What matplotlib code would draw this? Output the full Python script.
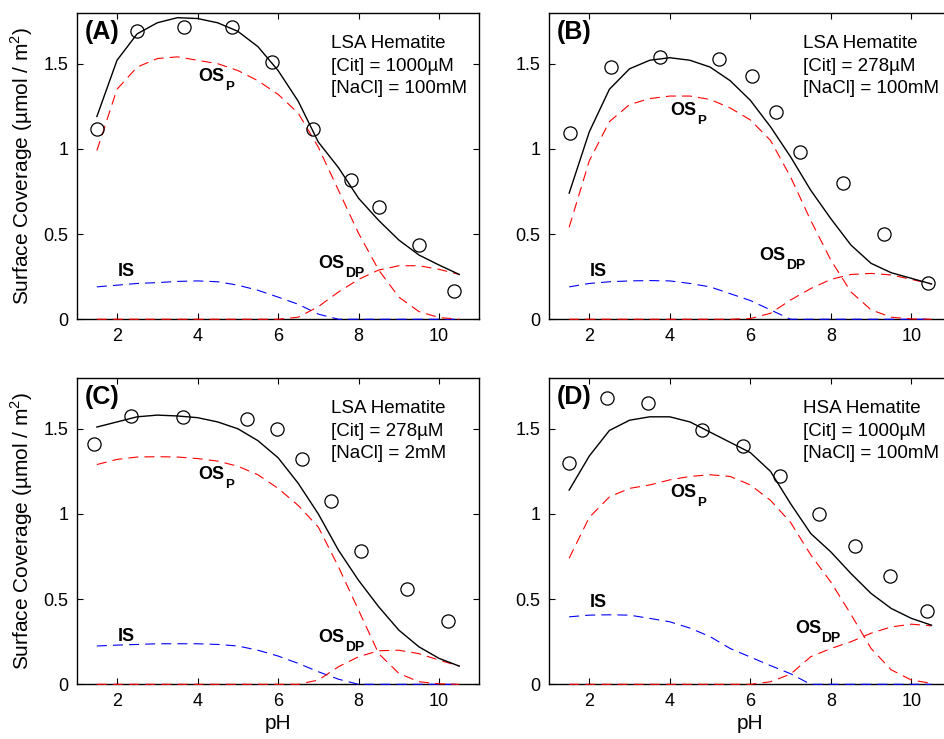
import numpy as np
import matplotlib.pyplot as plt

plt.rcParams['font.family'] = ['Liberation Sans', 'DejaVu Sans']
plt.rcParams['mathtext.fontset'] = 'custom'
plt.rcParams['mathtext.rm'] = 'Liberation Sans'

# pH grid of the model curves
ph_fit = [1.5, 2.0, 2.5, 3.0, 3.5, 4.0, 4.5, 5.0, 5.5, 6.0,
          6.5, 7.0, 7.5, 8.0, 8.5, 9.0, 9.5, 10.0, 10.5]

# (A) LSA, Cit 1000uM, NaCl 100mM
ph_obs_a = [1.50, 2.50, 3.67, 4.85, 5.84, 6.86, 7.81, 8.50, 9.50, 10.37]
obs_a = [1.117, 1.689, 1.716, 1.716, 1.509, 1.117, 0.818, 0.658, 0.433, 0.166]
tot_a = [1.19, 1.52, 1.675, 1.74, 1.77, 1.765, 1.74, 1.69, 1.60, 1.46,
         1.28, 1.04, 0.89, 0.71, 0.58, 0.465, 0.377, 0.318, 0.263]
osp_a = [0.99, 1.35, 1.48, 1.53, 1.54, 1.52, 1.50, 1.46, 1.40, 1.32,
         1.21, 1.01, 0.757, 0.504, 0.289, 0.13, 0.045, 0.01, 0.0]
osdp_a = [0, 0, 0, 0, 0, 0, 0, 0, 0, 0,
          0.012, 0.074, 0.16, 0.234, 0.289, 0.314, 0.314, 0.293, 0.263]
is_a = [0.19, 0.20, 0.21, 0.215, 0.222, 0.225, 0.22, 0.20, 0.17, 0.13,
        0.088, 0.03, 0, 0, 0, 0, 0, 0, 0]

# (B) LSA, Cit 278uM, NaCl 100mM
ph_obs_b = [1.53, 2.55, 3.75, 5.22, 6.03, 6.64, 7.24, 8.30, 9.31, 10.41]
obs_b = [1.096, 1.48, 1.54, 1.53, 1.43, 1.217, 0.98, 0.80, 0.50, 0.215]
tot_b = [0.74, 1.10, 1.35, 1.47, 1.52, 1.535, 1.52, 1.48, 1.40, 1.285,
         1.13, 0.953, 0.757, 0.59, 0.435, 0.328, 0.273, 0.24, 0.207]
osp_b = [0.54, 0.93, 1.16, 1.26, 1.295, 1.31, 1.31, 1.29, 1.24, 1.17,
         1.05, 0.835, 0.58, 0.347, 0.16, 0.055, 0.012, 0.002, 0]
osdp_b = [0, 0, 0, 0, 0, 0, 0, 0, 0, 0.004,
          0.035, 0.113, 0.18, 0.234, 0.263, 0.269, 0.26, 0.234, 0.207]
is_b = [0.19, 0.21, 0.22, 0.225, 0.227, 0.225, 0.21, 0.19, 0.15, 0.11,
        0.055, 0.0, 0, 0, 0, 0, 0, 0, 0]

# (C) LSA, Cit 278uM, NaCl 2mM
ph_obs_c = [1.44, 2.35, 3.65, 5.24, 5.98, 6.60, 7.31, 8.06, 9.21, 10.21]
obs_c = [1.41, 1.576, 1.568, 1.559, 1.50, 1.324, 1.078, 0.78, 0.557, 0.371]
tot_c = [1.51, 1.54, 1.57, 1.58, 1.575, 1.565, 1.54, 1.50, 1.43, 1.33,
         1.18, 1.00, 0.787, 0.61, 0.455, 0.318, 0.22, 0.152, 0.107]
osp_c = [1.29, 1.32, 1.334, 1.336, 1.334, 1.325, 1.31, 1.28, 1.23, 1.15,
         1.05, 0.923, 0.69, 0.435, 0.18, 0.064, 0.015, 0.003, 0]
osdp_c = [0, 0, 0, 0, 0, 0, 0, 0, 0, 0,
          0, 0.025, 0.103, 0.162, 0.197, 0.2, 0.18, 0.142, 0.107]
is_c = [0.225, 0.23, 0.234, 0.238, 0.238, 0.238, 0.234, 0.225, 0.20, 0.166,
        0.123, 0.074, 0.03, 0, 0, 0, 0, 0, 0]

# (D) HSA, Cit 1000uM, NaCl 100mM
ph_obs_d = [1.50, 2.44, 3.47, 4.79, 5.81, 6.73, 7.71, 8.59, 9.47, 10.38]
obs_d = [1.30, 1.68, 1.65, 1.494, 1.40, 1.22, 0.998, 0.81, 0.635, 0.43]
tot_d = [1.14, 1.34, 1.49, 1.55, 1.57, 1.57, 1.54, 1.48, 1.42, 1.36,
         1.25, 1.06, 0.885, 0.777, 0.65, 0.533, 0.445, 0.387, 0.347]
osp_d = [0.74, 0.98, 1.10, 1.15, 1.17, 1.20, 1.22, 1.23, 1.22, 1.17,
         1.08, 0.95, 0.76, 0.60, 0.41, 0.21, 0.085, 0.025, 0.006]
osdp_d = [0, 0, 0, 0, 0, 0, 0, 0, 0, 0,
          0.015, 0.06, 0.162, 0.21, 0.25, 0.30, 0.337, 0.353, 0.343]
is_d = [0.396, 0.406, 0.408, 0.406, 0.387, 0.367, 0.33, 0.28, 0.21, 0.16,
        0.11, 0.062, 0.0, 0, 0, 0, 0, 0, 0]

panel_tags = ['(A)', '(B)', '(C)', '(D)']
info = [['LSA Hematite', '[Cit] = 1000µM', '[NaCl] = 100mM'],
        ['LSA Hematite', '[Cit] = 278µM', '[NaCl] = 100mM'],
        ['LSA Hematite', '[Cit] = 278µM', '[NaCl] = 2mM'],
        ['HSA Hematite', '[Cit] = 1000µM', '[NaCl] = 100mM']]
# label anchors (x, y) for OS_P, IS, OS_DP
lab_osp = [(4.02, 1.40), (4.02, 1.20), (4.02, 1.203), (4.02, 1.10)]
lab_is = [(2.01, 0.254), (2.02, 0.254), (2.01, 0.254), (2.02, 0.455)]
lab_osdp = [(7.01, 0.30), (6.23, 0.35), (7.01, 0.25), (7.11, 0.303)]

xticks = [2, 4, 6, 8, 10]
yticks = [0, 0.5, 1, 1.5]
yticklabels = ['0', '0.5', '1', '1.5']

panels = [
    (ph_obs_a, obs_a, tot_a, osp_a, osdp_a, is_a),
    (ph_obs_b, obs_b, tot_b, osp_b, osdp_b, is_b),
    (ph_obs_c, obs_c, tot_c, osp_c, osdp_c, is_c),
    (ph_obs_d, obs_d, tot_d, osp_d, osdp_d, is_d),
]

pos = [[0.0813, 0.568, 0.4265, 0.415],
       [0.5816, 0.568, 0.4265, 0.415],
       [0.0813, 0.074, 0.4265, 0.415],
       [0.5816, 0.074, 0.4265, 0.415]]

fig = plt.figure(figsize=(9.44, 7.39), dpi=100)

dash = (0, (9, 5.5))
for i, (pho, obs, tot, osp, osdp, isv) in enumerate(panels):
    ax = fig.add_axes(pos[i])
    ax.plot(ph_fit, isv, color='b', lw=0.8, ls=dash, clip_on=False, zorder=3)
    ax.plot(ph_fit, osdp, color='r', lw=0.8, ls=dash, clip_on=False, zorder=3)
    ax.plot(ph_fit, osp, color='r', lw=0.8, ls=dash, clip_on=False, zorder=3)
    ax.plot(ph_fit, tot, color='k', lw=1.0, zorder=4)
    ax.plot(pho, obs, 'o', mfc='none', mec='k', ms=9.5, mew=0.9, zorder=5)

    ax.set_xlim(1, 11)
    ax.set_ylim(0, 1.8)
    ax.set_xticks(xticks)
    ax.set_yticks(yticks)
    ax.set_yticklabels(yticklabels)
    ax.tick_params(direction='in', top=True, right=True, length=4,
                   width=0.8, labelsize=13, pad=6)
    for s in ax.spines.values():
        s.set_linewidth(1.0)

    ax.text(0.02, 0.975, panel_tags[i], transform=ax.transAxes,
            fontsize=18, fontweight='bold', ha='left', va='top')
    for k, line in enumerate(info[i]):
        ax.text(0.632, 0.884 - 0.0735 * k, line, transform=ax.transAxes,
                fontsize=13.5, ha='left', va='baseline')

    x, y = lab_osp[i]
    ax.text(x, y, 'OS', fontsize=13, fontweight='bold', va='baseline')
    ax.annotate('P', xy=(x, y), xytext=(19, -6.5), textcoords='offset points',
                fontsize=9.5, fontweight='bold', va='baseline')
    x, y = lab_osdp[i]
    ax.text(x, y, 'OS', fontsize=13, fontweight='bold', va='baseline')
    ax.annotate('DP', xy=(x, y), xytext=(19, -6.5), textcoords='offset points',
                fontsize=10, fontweight='bold', va='baseline')
    x, y = lab_is[i]
    ax.text(x, y, 'IS', fontsize=13, fontweight='bold', va='baseline')

    if i % 2 == 0:
        ax.set_ylabel('Surface Coverage (µmol / m$^{\\mathrm{2}}$)',
                      fontsize=15, labelpad=6)
    if i >= 2:
        ax.set_xlabel('pH', fontsize=15, labelpad=3)

fig.savefig('out.png', dpi=100)
